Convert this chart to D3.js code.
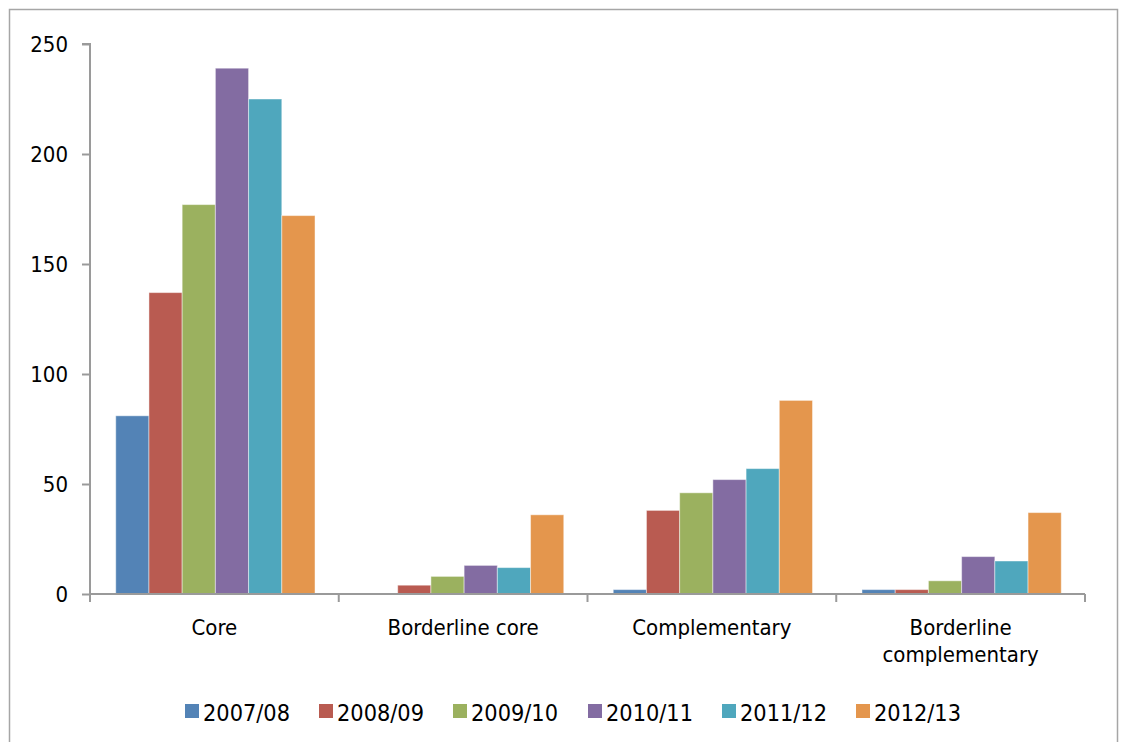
<!DOCTYPE html>
<html><head><meta charset="utf-8">
<script src="https://cdn.jsdelivr.net/npm/d3@7"></script>
<style>html,body{margin:0;padding:0;background:#fff;}svg{display:block;}</style>
</head><body>
<svg id="chart" width="1126" height="742"></svg>
<script>
const categories = ["Core", "Borderline core", "Complementary", "Borderline complementary"];
const categoryLines = [["Core"], ["Borderline core"], ["Complementary"], ["Borderline", "complementary"]];
const seriesNames = ["2007/08", "2008/09", "2009/10", "2010/11", "2011/12", "2012/13"];
const s2007 = [81, 0, 2, 2];
const s2008 = [137, 4, 38, 2];
const s2009 = [177, 8, 46, 6];
const s2010 = [239, 13, 52, 17];
const s2011 = [225, 12, 57, 15];
const s2012 = [172, 36, 88, 37];
const seriesValues = [s2007, s2008, s2009, s2010, s2011, s2012];
const colors = ["#5383b6", "#b95b51", "#9bb15f", "#836ca2", "#4fa7bd", "#e4964d"];
const yTicks = [0, 50, 100, 150, 200, 250];

(function () {
const svg = d3.select("#chart");
const font = "'DejaVu Sans Condensed', 'DejaVu Sans', sans-serif";
const axisColor = "#9a9a9a";

// outer frame
svg.append("rect").attr("x", 9.5).attr("y", 9.5).attr("width", 1108).attr("height", 800)
  .attr("fill", "none").attr("stroke", "#a6a6a6").attr("stroke-width", 1.5);

const pL = 90, pR = 1085, pT = 44, pB = 594;
const x0 = d3.scaleBand().domain(categories).range([pL, pR]).paddingInner(0).paddingOuter(0);
const x1 = d3.scaleBand().domain(seriesNames).range([1, x0.bandwidth() + 1]).paddingOuter(0.745).paddingInner(0);
const y = d3.scaleLinear().domain([0, 250]).range([pB, pT]);

// bars
seriesNames.forEach((s, si) => {
  svg.append("g").selectAll("rect").data(categories).join("rect")
    .attr("x", c => x0(c) + x1(s))
    .attr("y", (c, ci) => y(seriesValues[si][ci]))
    .attr("width", x1.bandwidth())
    .attr("height", (c, ci) => y(0) - y(seriesValues[si][ci]))
    .attr("fill", colors[si])
    .attr("stroke", "rgba(255,255,255,0.45)")
    .attr("stroke-width", 1);
});

// y axis
const yAxis = d3.axisLeft(y).tickValues(yTicks).tickSize(8).tickPadding(14);
const gy = svg.append("g").attr("transform", `translate(${pL},0)`).call(yAxis);
gy.select(".domain").attr("stroke", axisColor).attr("stroke-width", 2).attr("d", `M-8,${pT}H0V${pB}`);
gy.selectAll(".tick line").attr("stroke", axisColor).attr("stroke-width", 2);
gy.selectAll(".tick text").attr("font-family", font).attr("font-size", 22).attr("fill", "#000").attr("dy", "0.36em");

// x axis
const gx = svg.append("g");
gx.append("line").attr("x1", pL).attr("x2", pR).attr("y1", pB).attr("y2", pB)
  .attr("stroke", axisColor).attr("stroke-width", 2);
const boundaries = categories.map(c => x0(c)).concat([pR]);
gx.selectAll("line.tk").data(boundaries).join("line").attr("class", "tk")
  .attr("x1", d => d).attr("x2", d => d).attr("y1", pB).attr("y2", pB + 8)
  .attr("stroke", axisColor).attr("stroke-width", 2);
categories.forEach((c, ci) => {
  const lines = categoryLines[ci];
  const t = gx.append("text").attr("x", x0(c) + x0.bandwidth() / 2).attr("y", 635)
    .attr("text-anchor", "middle").attr("font-family", font).attr("font-size", 22).attr("fill", "#000");
  lines.forEach((l, li) => {
    t.append("tspan").attr("x", x0(c) + x0.bandwidth() / 2).attr("dy", li === 0 ? 0 : 27).text(l);
  });
});

// legend
const legendX = [185, 319, 453, 588, 722, 856];
const lg = svg.append("g");
seriesNames.forEach((s, si) => {
  lg.append("rect").attr("x", legendX[si]).attr("y", 704).attr("width", 14).attr("height", 14).attr("fill", colors[si]);
  lg.append("text").attr("x", legendX[si] + 18).attr("y", 721)
    .attr("font-family", font).attr("font-size", 23).attr("fill", "#000")
    .attr("textLength", 87).attr("lengthAdjust", "spacingAndGlyphs").text(s);
});
})();
</script>
</body></html>
